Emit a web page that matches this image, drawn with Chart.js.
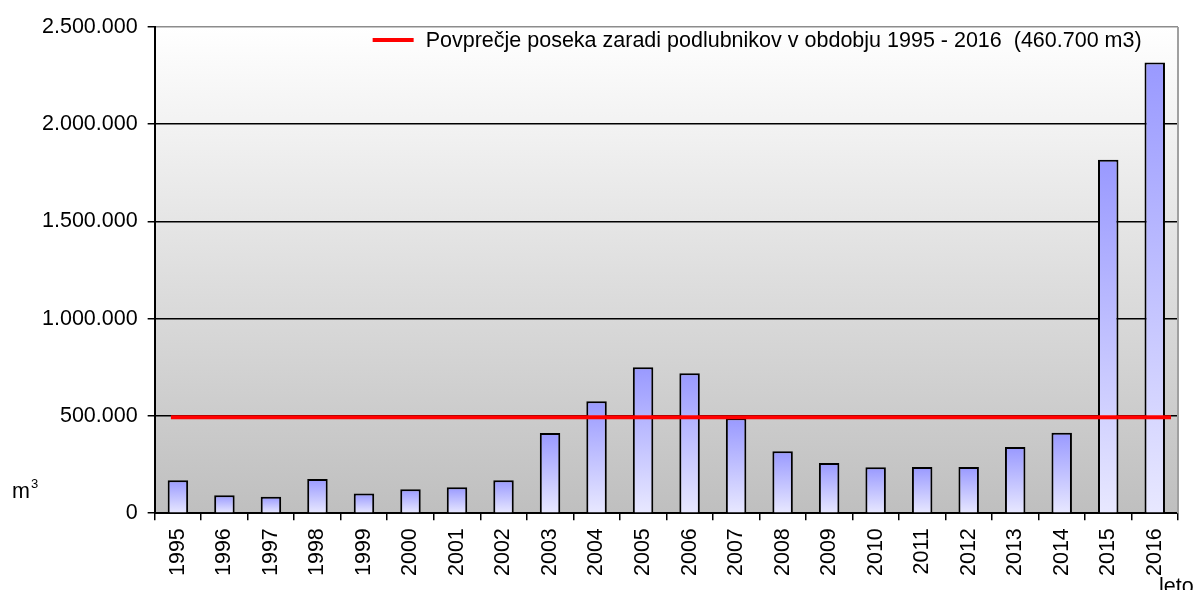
<!DOCTYPE html>
<html>
<head>
<meta charset="utf-8">
<script src="https://cdn.jsdelivr.net/npm/chart.js@4"></script>
<style>
  html, body { margin: 0; padding: 0; background: #fff; }
  #wrap { width: 1196px; height: 590px; }
</style>
</head>
<body>
<div id="wrap"><canvas id="myChart" width="1196" height="590"></canvas></div>
<script>
// podatki
const leta = ['1995','1996','1997','1998','1999','2000','2001','2002','2003','2004','2005',
              '2006','2007','2008','2009','2010','2011','2012','2013','2014','2015','2016'];
const posek = [169000, 92000, 84000, 176000, 101000, 123000, 133000, 169000, 412000, 576000, 750000,
               720000, 488000, 319000, 258000, 236000, 237000, 237000, 340000, 414000, 1817000, 2318000];
const povprecje = 493000;
const povprecjeRazpon = [-0.15, 21.35];
const yTicks = [0, 500000, 1000000, 1500000, 2000000, 2500000];
const legendaTekst = 'Povprečje poseka zaradi podlubnikov v obdobju 1995 - 2016  (460.700 m3)';

const FONT = "'Liberation Sans', Arial, sans-serif";
const FS = 21.5;
Chart.defaults.font.family = FONT;
Chart.defaults.color = '#000';

const fmt = v => v.toString().replace(/\B(?=(\d{3})+(?!\d))/g, '.');

// ozadje grafa
const ozadje = {
    id: 'ozadje',
    beforeDraw(chart) {
        const { ctx, chartArea: a } = chart;
        const g = ctx.createLinearGradient(0, a.top, 0, a.bottom);
        g.addColorStop(0, '#ffffff');
        g.addColorStop(1, '#bfbfbf');
        ctx.save();
        ctx.fillStyle = g;
        ctx.fillRect(a.left, a.top, a.right - a.left, a.bottom - a.top);
        ctx.restore();
    },
    afterDraw(chart) {
        const { ctx, chartArea: a } = chart;
        ctx.save();
        // desni rob
        ctx.strokeStyle = '#a0a0a0';
        ctx.lineWidth = 2;
        ctx.beginPath();
        ctx.moveTo(a.right, a.top);
        ctx.lineTo(a.right, a.bottom);
        ctx.stroke();
        // legenda
        ctx.strokeStyle = '#ff0000';
        ctx.lineWidth = 4;
        ctx.beginPath();
        ctx.moveTo(a.left + 218, a.top + 13);
        ctx.lineTo(a.left + 259, a.top + 13);
        ctx.stroke();
        ctx.fillStyle = '#000';
        ctx.font = FS + 'px ' + FONT;
        ctx.textBaseline = 'middle';
        ctx.fillText(legendaTekst, a.left + 271, a.top + 14);
        // enote
        ctx.textBaseline = 'alphabetic';
        ctx.fillText('m', 12, 498);
        ctx.font = '13px ' + FONT;
        ctx.fillText('3', 31, 488);
        ctx.font = FS + 'px ' + FONT;
        ctx.fillText('leto', 1159, 593);
        ctx.restore();
    }
};

function barGradient(c) {
    const chart = c.chart;
    if (!chart.chartArea || !chart.scales.y) return '#c8c8ff';
    const y = chart.scales.y;
    const top = y.getPixelForValue(c.raw);
    const bot = y.getPixelForValue(0);
    if (!isFinite(top) || bot - top < 1) return '#e6e6ff';
    const g = chart.ctx.createLinearGradient(0, top, 0, bot);
    g.addColorStop(0, '#9999ff');
    g.addColorStop(1, '#e8e8ff');
    return g;
}

const ctx = document.getElementById('myChart');
new Chart(ctx, {
    data: {
        labels: leta,
        datasets: [
            {
                type: 'line',
                data: povprecjeRazpon.map(x => ({ x: x, y: povprecje })),
                xAxisID: 'x2',
                borderColor: '#ff0000',
                borderWidth: 4,
                pointRadius: 0,
                order: 0
            },
            {
                type: 'bar',
                data: posek,
                xAxisID: 'x',
                grouped: false,
                backgroundColor: barGradient,
                borderColor: '#000',
                borderWidth: 2,
                barPercentage: 0.44,
                categoryPercentage: 1,
                order: 1
            }
        ]
    },
    options: {
        responsive: false,
        animation: false,
        layout: { padding: { left: 32, right: 18, top: 27, bottom: 6 } },
        plugins: { legend: { display: false }, tooltip: { enabled: false } },
        scales: {
            x: {
                type: 'category',
                offset: true,
                grid: { offset: true, drawOnChartArea: false, color: '#000', tickLength: 7, lineWidth: 1.5 },
                border: { color: '#000', width: 2 },
                ticks: { font: { size: FS }, maxRotation: 90, minRotation: 90, padding: 8, color: '#000' }
            },
            x2: {
                type: 'linear',
                display: false,
                min: -0.5,
                max: leta.length - 0.5
            },
            y: {
                min: 0,
                max: 2500000,
                afterBuildTicks(axis) { axis.ticks = yTicks.map(v => ({ value: v })); },
                grid: {
                    color: c => c.tick && c.tick.value === 2500000 ? '#8c8c8c' : '#000',
                    tickColor: '#000',
                    lineWidth: 1.5,
                    tickLength: 7
                },
                border: { color: '#000', width: 2 },
                ticks: { font: { size: FS }, padding: 10, color: '#000', callback: v => fmt(v) }
            }
        }
    },
    plugins: [ozadje]
});
</script>
</body>
</html>
